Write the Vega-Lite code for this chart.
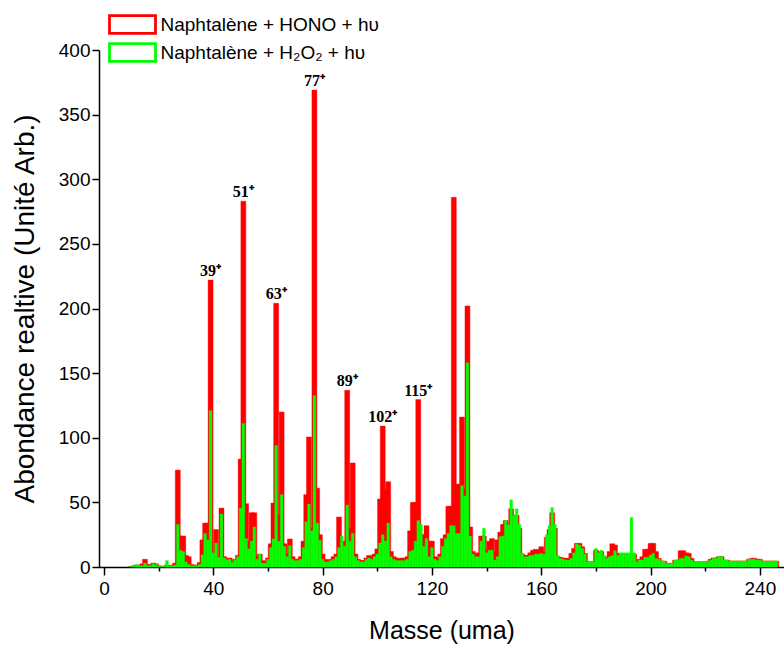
{
  "$schema": "https://vega.github.io/schema/vega-lite/v6.json",
  "autosize": {"type": "none"},
  "width": 685,
  "height": 517,
  "padding": {"left": 99, "top": 50, "right": 0, "bottom": 79},
  "background": "white",
  "config": {"view": {"stroke": null}},
  "datasets": {
    "spec": [
      {"m":10,"a":0.5,"b":0.5},{"m":11,"a":1,"b":1},{"m":12,"a":1.5,"b":2},{"m":13,"a":1,"b":1},{"m":14,"a":2.5,"b":1},
      {"m":15,"a":6,"b":3},{"m":16,"a":2,"b":1},{"m":17,"a":1.5,"b":1},{"m":18,"a":3,"b":2.5},{"m":19,"a":2.5,"b":2},
      {"m":20,"a":1,"b":1},{"m":21,"a":0.5,"b":0.5},{"m":22,"a":0.5,"b":0.5},{"m":23,"a":1.5,"b":5},{"m":24,"a":1,"b":1},
      {"m":25,"a":1.5,"b":1},{"m":26,"a":3,"b":1.5},{"m":27,"a":75,"b":33},{"m":28,"a":24,"b":13},{"m":29,"a":24,"b":12},
      {"m":30,"a":9,"b":4},{"m":31,"a":8,"b":2},{"m":32,"a":2,"b":1},{"m":33,"a":1.5,"b":1},{"m":34,"a":1.5,"b":1},
      {"m":35,"a":3.5,"b":2},{"m":36,"a":21,"b":9.5},{"m":37,"a":34,"b":26},{"m":38,"a":34,"b":21},{"m":39,"a":222,"b":121},
      {"m":40,"a":11,"b":11},{"m":41,"a":29,"b":18.5},{"m":42,"a":8,"b":7.5},{"m":43,"a":45.6,"b":41},{"m":44,"a":8,"b":7},
      {"m":45,"a":6,"b":5.7},{"m":46,"a":7,"b":6},{"m":47,"a":4,"b":3.6},{"m":48,"a":6,"b":5.7},{"m":49,"a":9,"b":8},
      {"m":50,"a":83.5,"b":45.6},{"m":51,"a":283,"b":111},{"m":52,"a":49,"b":22},{"m":53,"a":20,"b":14},{"m":54,"a":42,"b":20},
      {"m":55,"a":42,"b":31},{"m":56,"a":8,"b":6},{"m":57,"a":10,"b":10},{"m":58,"a":5,"b":3},{"m":59,"a":4,"b":3},
      {"m":60,"a":7,"b":6},{"m":61,"a":18,"b":15},{"m":62,"a":49.5,"b":21.7},{"m":63,"a":204,"b":94},{"m":64,"a":40,"b":20},
      {"m":65,"a":120,"b":56},{"m":66,"a":18,"b":16},{"m":67,"a":10,"b":8},{"m":68,"a":21.7,"b":16.5},{"m":69,"a":8,"b":6},
      {"m":70,"a":6,"b":5},{"m":71,"a":6,"b":5},{"m":72,"a":8,"b":6},{"m":73,"a":20,"b":15},{"m":74,"a":56,"b":35},
      {"m":75,"a":100.6,"b":48.7},{"m":76,"a":30,"b":28},{"m":77,"a":369,"b":132.6},{"m":78,"a":61,"b":34},{"m":79,"a":25,"b":20.6},
      {"m":80,"a":10,"b":6},{"m":81,"a":6,"b":4},{"m":82,"a":5,"b":4},{"m":83,"a":6,"b":5},{"m":84,"a":8,"b":6},
      {"m":85,"a":10,"b":8},{"m":86,"a":38.7,"b":15},{"m":87,"a":18,"b":24},{"m":88,"a":20,"b":16},{"m":89,"a":136.7,"b":48},
      {"m":90,"a":30,"b":20},{"m":91,"a":80.5,"b":26},{"m":92,"a":10,"b":8},{"m":93,"a":6,"b":5},{"m":94,"a":5,"b":4},
      {"m":95,"a":5,"b":4},{"m":96,"a":7,"b":6},{"m":97,"a":9,"b":7},{"m":98,"a":8,"b":6},{"m":99,"a":10,"b":8},
      {"m":100,"a":14,"b":10},{"m":101,"a":52.6,"b":18.6},{"m":102,"a":109,"b":25},{"m":103,"a":60,"b":20},{"m":104,"a":66,"b":34},
      {"m":105,"a":12,"b":8},{"m":106,"a":8,"b":6},{"m":107,"a":7,"b":5},{"m":108,"a":6,"b":5},{"m":109,"a":7,"b":5},
      {"m":110,"a":6,"b":5},{"m":111,"a":8,"b":6},{"m":112,"a":28,"b":12},{"m":113,"a":50,"b":13},{"m":114,"a":50,"b":20},
      {"m":115,"a":129.5,"b":36},{"m":116,"a":25,"b":33},{"m":117,"a":25,"b":16},{"m":118,"a":32,"b":22},{"m":119,"a":20,"b":8},
      {"m":120,"a":20,"b":15},{"m":121,"a":8,"b":6},{"m":122,"a":7,"b":5},{"m":123,"a":10,"b":8},{"m":124,"a":22,"b":16},
      {"m":125,"a":25,"b":22},{"m":126,"a":47,"b":26},{"m":127,"a":47,"b":32},{"m":128,"a":286,"b":32},{"m":129,"a":64,"b":26},
      {"m":130,"a":64,"b":26},{"m":131,"a":116,"b":63},{"m":132,"a":60,"b":55},{"m":133,"a":202,"b":158},{"m":134,"a":31,"b":24},
      {"m":135,"a":12,"b":10},{"m":136,"a":10,"b":8},{"m":137,"a":11,"b":8},{"m":138,"a":24,"b":20},{"m":139,"a":24,"b":30},
      {"m":140,"a":13,"b":11},{"m":141,"a":20,"b":13},{"m":142,"a":22,"b":13},{"m":143,"a":12.6,"b":5.4},{"m":144,"a":21,"b":8},
      {"m":145,"a":27,"b":23.5},{"m":146,"a":33,"b":24},{"m":147,"a":36,"b":36},{"m":148,"a":30,"b":32.5},{"m":149,"a":45,"b":52},
      {"m":150,"a":35,"b":39.5},{"m":151,"a":40,"b":45},{"m":152,"a":30,"b":33},{"m":153,"a":10,"b":10.6},{"m":154,"a":9,"b":8},
      {"m":155,"a":9,"b":8},{"m":156,"a":11,"b":9},{"m":157,"a":13,"b":9},{"m":158,"a":13.7,"b":10},{"m":159,"a":13,"b":10},
      {"m":160,"a":15.7,"b":10.6},{"m":161,"a":12,"b":10},{"m":162,"a":23,"b":25},{"m":163,"a":29,"b":32},{"m":164,"a":42,"b":46},
      {"m":165,"a":30,"b":33},{"m":166,"a":8,"b":9},{"m":167,"a":7.5,"b":6.7},{"m":168,"a":7,"b":6},{"m":169,"a":6.7,"b":5.4},
      {"m":170,"a":6.7,"b":5.4},{"m":171,"a":10.6,"b":6.7},{"m":172,"a":14.4,"b":11},{"m":173,"a":18.3,"b":17.8},{"m":174,"a":18.3,"b":17},
      {"m":175,"a":15.7,"b":14.4},{"m":176,"a":10.6,"b":10},{"m":177,"a":4,"b":4},{"m":178,"a":4,"b":4},{"m":179,"a":4,"b":4},
      {"m":180,"a":13,"b":14.4},{"m":181,"a":10,"b":11},{"m":182,"a":12,"b":13},{"m":183,"a":8,"b":9},{"m":184,"a":6,"b":6.7},
      {"m":185,"a":12,"b":8},{"m":186,"a":18,"b":8.8},{"m":187,"a":17,"b":12.6},{"m":188,"a":10.6,"b":9},{"m":189,"a":10,"b":11},
      {"m":190,"a":10,"b":11},{"m":191,"a":10,"b":11},{"m":192,"a":10,"b":11},{"m":193,"a":10,"b":38.4},{"m":194,"a":10,"b":11},
      {"m":195,"a":4,"b":4},{"m":196,"a":6,"b":5.4},{"m":197,"a":8,"b":5.4},{"m":198,"a":13.7,"b":7.5},{"m":199,"a":13.7,"b":7.5},
      {"m":200,"a":18.3,"b":9.3},{"m":201,"a":18.3,"b":10.6},{"m":202,"a":12,"b":6.7},{"m":203,"a":6.7,"b":6},{"m":204,"a":4.6,"b":4.6},
      {"m":205,"a":4.6,"b":4.6},{"m":206,"a":2.8,"b":2.8},{"m":207,"a":2.8,"b":2.8},{"m":208,"a":2.8,"b":2.8},{"m":209,"a":5.4,"b":5.4},
      {"m":210,"a":5.4,"b":5.4},{"m":211,"a":12.6,"b":6.7},{"m":212,"a":12.6,"b":6.7},{"m":213,"a":11,"b":8.5},{"m":214,"a":10.6,"b":8},
      {"m":215,"a":6.7,"b":5.4},{"m":216,"a":4,"b":4},{"m":217,"a":4,"b":4},{"m":218,"a":4,"b":4},{"m":219,"a":4,"b":4},
      {"m":220,"a":4,"b":4},{"m":221,"a":4.5,"b":4.5},{"m":222,"a":6,"b":5.4},{"m":223,"a":7,"b":6.7},{"m":224,"a":7,"b":6.7},
      {"m":225,"a":8,"b":8},{"m":226,"a":8,"b":8},{"m":227,"a":5.4,"b":5.4},{"m":228,"a":5.4,"b":5.4},{"m":229,"a":4.6,"b":4.6},
      {"m":230,"a":4.6,"b":4.6},{"m":231,"a":4.6,"b":4.6},{"m":232,"a":4.6,"b":4.6},{"m":233,"a":4.6,"b":4.6},{"m":234,"a":4.6,"b":4.6},
      {"m":235,"a":4.6,"b":4.6},{"m":236,"a":6,"b":6},{"m":237,"a":6.7,"b":6},{"m":238,"a":6.7,"b":6},{"m":239,"a":6,"b":5.4},
      {"m":240,"a":6,"b":5.4},{"m":241,"a":4.6,"b":4.6},{"m":242,"a":4.6,"b":4.6},{"m":243,"a":4.6,"b":4.6},{"m":244,"a":4.6,"b":4.6},
      {"m":245,"a":4.6,"b":4.6},{"m":246,"a":4.6,"b":4.6}
    ],
    "labels": [
      {"m":39,"v":222,"t":"39⁺"},
      {"m":51,"v":283,"t":"51⁺"},
      {"m":63,"v":204,"t":"63⁺"},
      {"m":77,"v":369,"t":"77⁺"},
      {"m":89,"v":136.7,"t":"89⁺"},
      {"m":102,"v":109,"t":"102⁺"},
      {"m":115,"v":129.5,"t":"115⁺"}
    ]
  },
  "layer": [
    {
      "data": {"name": "labels"},
      "mark": {"type": "point", "filled": false, "size": 0, "strokeWidth": 0},
      "encoding": {
        "x": {"field": "m", "type": "quantitative",
              "scale": {"domain": [0, 247], "nice": false, "zero": true},
              "axis": {"orient": "bottom", "values": [0,20,40,60,80,100,120,140,160,180,200,220,240], "grid": false,
                       "labelExpr": "datum.value % 40 === 0 ? datum.label : ''", "labelOverlap": false,
                       "tickSize": {"condition": {"test": "datum.value % 40 === 0", "value": 8}, "value": 4},
                       "tickWidth": 1.5, "tickColor": "black", "domainColor": "black", "domainWidth": 1.5,
                       "labelFont": "Liberation Sans", "labelFontSize": 19, "labelColor": "black", "labelPadding": 4,
                       "title": "Masse (uma)", "titleFont": "Liberation Sans", "titleFontSize": 25, "titleFontWeight": "normal",
                       "titleColor": "black", "titlePadding": 20}},
        "y": {"field": "v", "type": "quantitative",
              "scale": {"domain": [0, 400], "nice": false},
              "axis": {"orient": "left", "values": [0,25,50,75,100,125,150,175,200,225,250,275,300,325,350,375,400], "grid": false,
                       "labelExpr": "datum.value % 50 === 0 ? datum.label : ''", "labelOverlap": false,
                       "tickSize": {"condition": {"test": "datum.value % 50 === 0", "value": 7}, "value": 4},
                       "tickWidth": 1.5, "tickColor": "black", "domainColor": "black", "domainWidth": 1.5,
                       "labelFont": "Liberation Sans", "labelFontSize": 19, "labelColor": "black", "labelPadding": 2,
                       "title": "Abondance realtive (Unité Arb.)", "titleFont": "Liberation Sans", "titleFontSize": 28,
                       "titleFontWeight": "normal", "titleColor": "black", "titlePadding": 19}},
        "stroke": {"datum": "Naphtalène + HONO + hυ", "type": "nominal",
                  "scale": {"domain": ["Naphtalène + HONO + hυ", "Naphtalène + H₂O₂ + hυ"], "range": ["#ff0000", "#00ff00"]},
                  "legend": {"orient": "none", "legendX": 20.5, "legendY": -38.5, "title": null,
                             "symbolType": "M-2,-0.78L2,-0.78L2,0.78L-2,0.78Z", "symbolSize": 529,
                             "symbolFillColor": "white", "symbolStrokeWidth": 2.8, "symbolOpacity": 1,
                             "labelFont": "Liberation Sans", "labelFontSize": 19, "labelColor": "black", "labelLimit": 500,
                             "labelOffset": 15, "rowPadding": -4}}
      }
    },
    {
      "data": {"name": "spec"},
      "mark": {"type": "bar", "orient": "vertical", "size": 5, "fill": "#ff0000", "strokeWidth": 0.4},
      "encoding": {
        "x": {"field": "m", "type": "quantitative"},
        "y": {"field": "a", "type": "quantitative"},
        "stroke": {"datum": "Naphtalène + HONO + hυ", "type": "nominal"}
      }
    },
    {
      "data": {"name": "spec"},
      "mark": {"type": "bar", "orient": "vertical", "size": 2.8, "fill": "#00ff00", "strokeWidth": 0.3},
      "encoding": {
        "x": {"field": "m", "type": "quantitative"},
        "y": {"field": "b", "type": "quantitative"},
        "stroke": {"datum": "Naphtalène + H₂O₂ + hυ", "type": "nominal"}
      }
    },
    {
      "data": {"name": "labels"},
      "mark": {"type": "text", "font": "Liberation Serif", "fontWeight": "bold", "fontSize": 16, "color": "black",
               "align": "center", "baseline": "alphabetic", "dy": -4},
      "encoding": {
        "x": {"field": "m", "type": "quantitative"},
        "y": {"field": "v", "type": "quantitative"},
        "text": {"field": "t"}
      }
    }
  ]
}
